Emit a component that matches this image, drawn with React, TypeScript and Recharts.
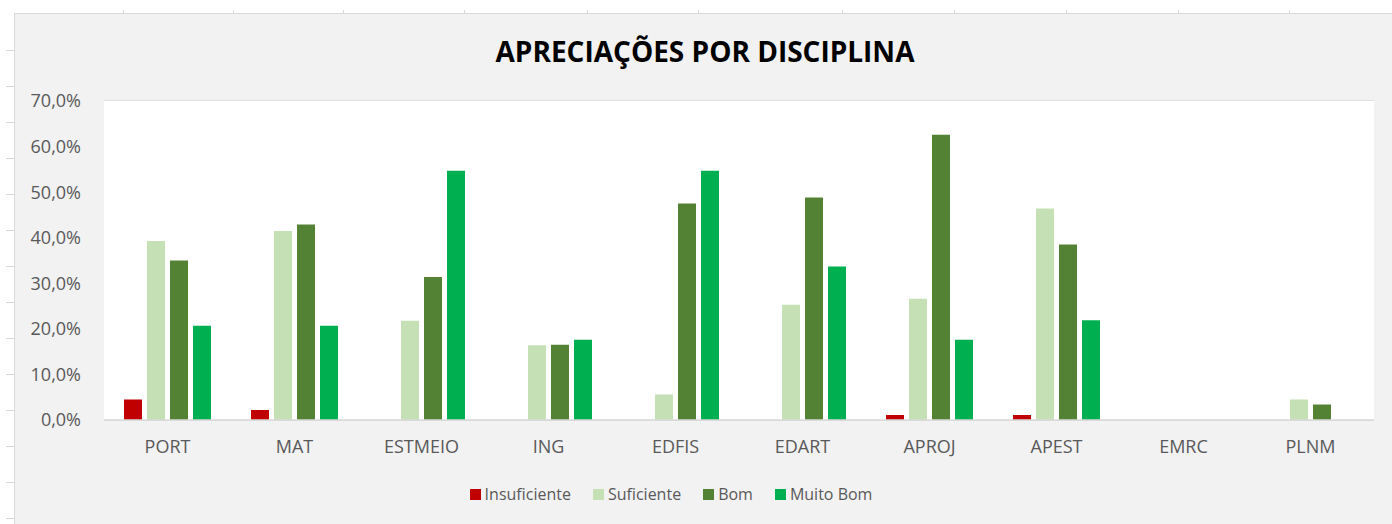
import { BarChart, Bar, XAxis, YAxis, CartesianGrid } from 'recharts'

const categories = ['PORT', 'MAT', 'ESTMEIO', 'ING', 'EDFIS', 'EDART', 'APROJ', 'APEST', 'EMRC', 'PLNM']
const insuficiente = [4.5, 2.2, 0, 0, 0, 0, 1.1, 1.1, 0, 0]
const suficiente = [39.3, 41.5, 21.8, 16.4, 5.6, 25.3, 26.6, 46.4, 0, 4.5]
const bom = [35.0, 42.9, 31.4, 16.5, 47.5, 48.8, 62.6, 38.5, 0, 3.4]
const muitoBom = [20.7, 20.7, 54.7, 17.6, 54.7, 33.7, 17.6, 21.9, 0, 0]
const yTicks = [0, 10, 20, 30, 40, 50, 60, 70]

const series = [
  { key: 'insuficiente', name: 'Insuficiente', color: '#c00000' },
  { key: 'suficiente', name: 'Suficiente', color: '#c5e0b4' },
  { key: 'bom', name: 'Bom', color: '#548235' },
  { key: 'muitoBom', name: 'Muito Bom', color: '#00b050' },
]

const data = categories.map((c, i) => ({
  name: c,
  insuficiente: insuficiente[i],
  suficiente: suficiente[i],
  bom: bom[i],
  muitoBom: muitoBom[i],
}))

// spreadsheet cell borders peeking around the chart area
const colTicks = [123, 233, 343, 464, 587, 698, 842, 954, 1066, 1178, 1289]
const rowTicks = [50, 86, 122, 158, 194, 230, 266, 302, 338, 374, 410, 446, 482, 518]

const font = '"Open Sans", sans-serif'
const textColor = '#595959'

export default function App() {
  return (
    <div style={{ position: 'absolute', left: 0, top: 0, width: 1392, height: 524, background: '#fff', overflow: 'hidden' }}>
      {colTicks.map((x) => (
        <div key={'c' + x} style={{ position: 'absolute', left: x, top: 10, width: 1, height: 3, background: '#d9d9d9' }} />
      ))}
      {rowTicks.map((y) => (
        <div key={'r' + y} style={{ position: 'absolute', left: 6, top: y, width: 8, height: 1, background: '#d9d9d9' }} />
      ))}
      <div
        style={{
          position: 'absolute',
          left: 14,
          top: 13,
          width: 1392,
          height: 524,
          background: '#f2f2f2',
          borderLeft: '1px solid #d9d9d9',
          borderTop: '1px solid #d9d9d9',
        }}
      />
      <div
        style={{
          position: 'absolute',
          left: 0,
          top: 31,
          width: 1410,
          textAlign: 'center',
          fontFamily: font,
          fontWeight: 700,
          fontSize: 28,
          lineHeight: '40px',
          color: '#000',
        }}
      >
        APRECIAÇÕES POR DISCIPLINA
      </div>
      <div style={{ position: 'absolute', left: 0, top: 0 }}>
        <BarChart
          width={1392}
          height={524}
          data={data}
          margin={{ top: 101, right: 18, bottom: 0, left: 24 }}
          barCategoryGap={20}
          barGap={5}
        >
          <rect x={104} y={101} width={1270} height={319} fill="#ffffff" />
          <CartesianGrid vertical={false} stroke="#d9d9d9" strokeWidth={1.5} />
          <XAxis
            dataKey="name"
            axisLine={{ stroke: '#d9d9d9', strokeWidth: 1.5 }}
            tickLine={false}
            height={104}
            tickMargin={14}
            tick={{ fill: textColor, fontSize: 18, fontFamily: font }}
          />
          <YAxis
            domain={[0, 70]}
            ticks={yTicks}
            width={80}
            axisLine={false}
            tickLine={false}
            tickMargin={17}
            tickFormatter={(v: number) => v.toFixed(1).replace('.', ',') + '%'}
            tick={{ fill: textColor, fontSize: 18, fontFamily: font }}
          />
          {series.map((s) => (
            <Bar key={s.key} dataKey={s.key} name={s.name} fill={s.color} isAnimationActive={false} />
          ))}
        </BarChart>
      </div>
      <div
        style={{
          position: 'absolute',
          left: 0,
          top: 482,
          width: 1342,
          display: 'flex',
          justifyContent: 'center',
          gap: 22,
          fontFamily: font,
          fontSize: 16,
          lineHeight: '24px',
          color: textColor,
        }}
      >
        {series.map((s) => (
          <div key={s.key} style={{ display: 'flex', alignItems: 'center' }}>
            <span style={{ width: 11, height: 11, background: s.color, display: 'inline-block', marginRight: 4 }} />
            <span>{s.name}</span>
          </div>
        ))}
      </div>
    </div>
  )
}
